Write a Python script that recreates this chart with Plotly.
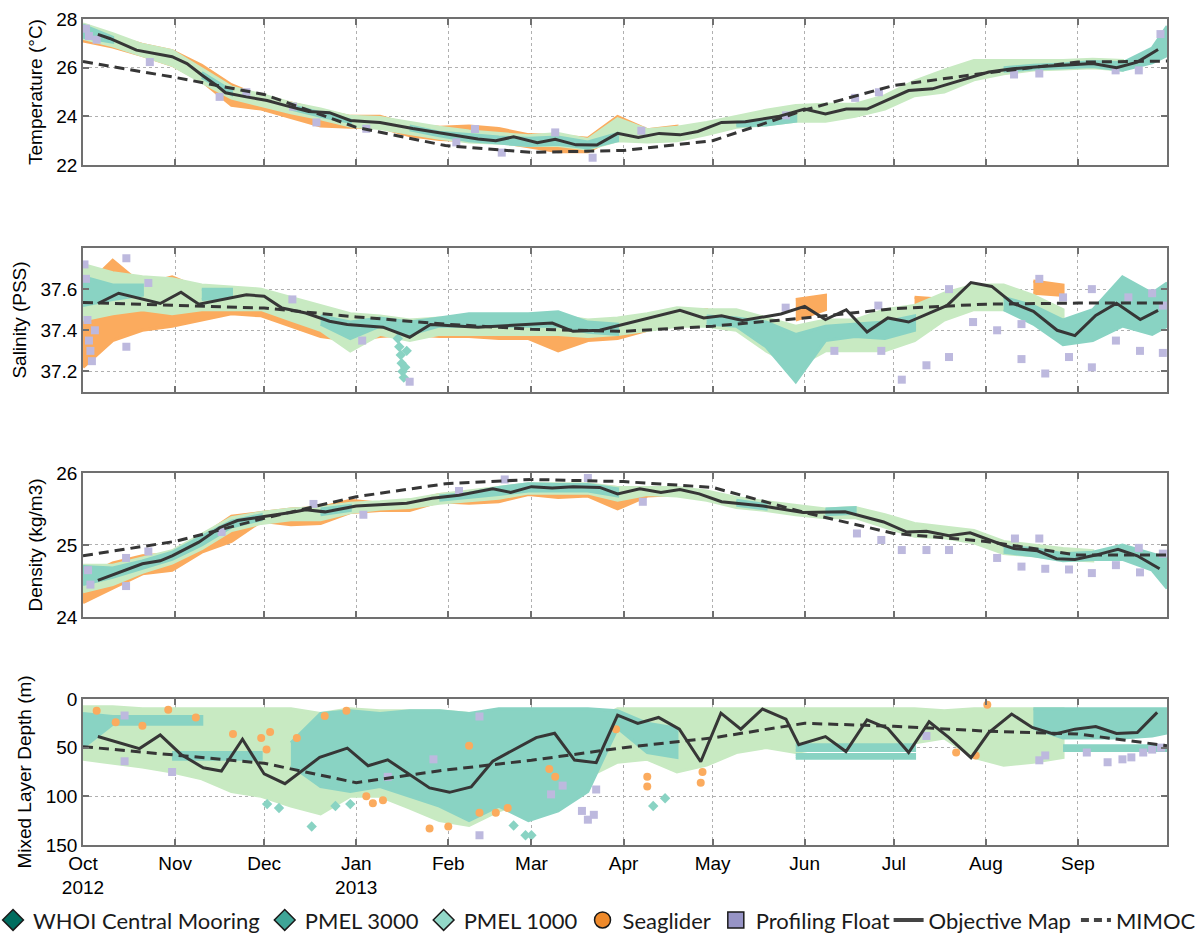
import pandas as pd
import plotly.graph_objects as go

# ---------------------------------------------------------------- time base
START = pd.Timestamp("2012-10-01")
END = pd.Timestamp("2013-10-01")

MONTH_TICKS = ["2012-10-01", "2012-11-01", "2012-12-01", "2013-01-01", "2013-02-01",
               "2013-03-01", "2013-04-01", "2013-05-01", "2013-06-01", "2013-07-01",
               "2013-08-01", "2013-09-01"]
MONTH_LABELS = ["Oct<br>2012", "Nov", "Dec", "Jan<br>2013", "Feb", "Mar", "Apr",
                "May", "Jun", "Jul", "Aug", "Sep"]

# day-of-record nodes used for the instrument envelopes
NODE_DAYS = [0, 10, 20, 30, 40, 50, 60, 70, 80, 90, 100, 110, 120, 130, 140, 150,
             160, 170, 180, 190, 200, 210, 220, 230, 240, 250, 260, 270, 280, 290,
             300, 310, 320, 330, 340, 350, 360, 365]

# ---------------------------------------------------------------- temperature (°C)
TEMP_P1000 = [(27.2, 27.8), (26.9, 27.4), (26.5, 26.95), (26.1, 26.7), (25.4, 25.95),
              (24.75, 25.2), (24.45, 24.9), (24.15, 24.55), (23.9, 24.3), (23.6, 24.0),
              (23.5, 23.95), (23.3, 23.75), (23.1, 23.55), (22.95, 23.4), (22.9, 23.3),
              (22.8, 23.2), (22.8, 23.3), (22.65, 23.05), (23.0, 23.9), (22.95, 23.45),
              (23.0, 23.55), (23.25, 23.75), (23.55, 24.0), (23.65, 24.25), (23.8, 24.45),
              (23.8, 24.5), (24.0, 24.5), (24.3, 24.85), (24.85, 25.45), (25.0, 25.9),
              (25.5, 26.3), (25.75, 26.3), (25.9, 26.3), (25.95, 26.3), (26.0, 26.35),
              (25.9, 26.3), None, None]
TEMP_P3000 = [(27.25, 27.75), (27.05, 27.25), None, None, (25.6, 25.8),
              (24.9, 25.05), None, (24.3, 24.45), (24.0, 24.15), (23.75, 23.85),
              None, (23.45, 23.6), (23.2, 23.35), (23.0, 23.25), (22.9, 23.15),
              (22.8, 23.1), (22.85, 23.15), (22.7, 22.95), (23.0, 23.3), None,
              None, None, (23.6, 23.75), (23.65, 23.85), (23.8, 24.0),
              None, None, None, None, None,
              None, (25.85, 26.0), (25.95, 26.1), (26.0, 26.15), (26.05, 26.25),
              (25.9, 26.2), (26.2, 26.8), (26.5, 27.7)]
TEMP_GLIDER = [(27.1, 27.5), (26.85, 27.3), (26.5, 26.95), (26.1, 26.7), (25.45, 26.1),
               (24.45, 25.3), (24.3, 24.8), (23.95, 24.55), (23.6, 24.25), (23.55, 24.0),
               (23.55, 24.0), (23.2, 23.65), (23.05, 23.55), (23.0, 23.6), (22.95, 23.5),
               (22.75, 23.25), (22.55, 23.2), (22.55, 23.1), (23.2, 24.0), (23.0, 23.45),
               (23.2, 23.6), None, None, (23.95, 24.2), (24.0, 24.35),
               None, None, None, None, None, None, None, None, None, None, None, None, None]
TEMP_FLOAT_DAYS = [1, 2, 4.6, 22.5, 46, 55, 70.7, 78.6, 95.4, 125.7, 132, 141, 159,
                   171.6, 188, 236.7, 260, 268, 313.5, 322, 347.7, 355.5, 362.8]
TEMP_FLOAT = [27.6, 27.3, 27.15, 26.23, 24.8, 24.99, 24.4, 23.75, 23.49, 22.93, 23.48,
              22.51, 23.34, 22.3, 23.41, 24.04, 24.76, 24.99, 25.72, 25.76, 25.89,
              25.89, 27.38]
TEMP_OM_DAYS = [5, 9, 18, 26, 30, 35, 40, 45, 48, 55, 62, 68, 76, 83, 90, 96, 100, 111,
                122, 133, 139, 145, 153, 159, 166, 173, 180, 187, 194, 201, 207, 215,
                223, 234, 243, 250, 257, 264, 278, 286, 305, 313, 324, 340, 348, 355, 362]
TEMP_OM = [27.37, 27.2, 26.72, 26.55, 26.45, 26.17, 25.7, 25.27, 24.97, 24.8, 24.65,
           24.45, 24.2, 24.15, 23.83, 23.78, 23.75, 23.5, 23.28, 23.07, 23.0, 23.16,
           22.92, 23.06, 22.83, 22.82, 23.3, 23.13, 23.3, 23.24, 23.38, 23.75, 23.78,
           23.99, 24.3, 24.1, 24.3, 24.3, 25.06, 25.13, 25.82, 25.96, 26.06, 26.17,
           26.0, 26.23, 26.75]

# ---------------------------------------------------------------- salinity (PSS)
SAL_P1000 = [(37.45, 37.72), (37.48, 37.68), (37.5, 37.66), (37.48, 37.65), (37.5, 37.62),
             (37.5, 37.61), (37.5, 37.6), (37.45, 37.56), (37.4, 37.52), (37.3, 37.48),
             (37.38, 37.47), (37.35, 37.45), (37.38, 37.46), (37.38, 37.45), (37.38, 37.46),
             (37.38, 37.46), (37.38, 37.47), (37.37, 37.45), (37.38, 37.46), (37.4, 37.48),
             (37.42, 37.51), (37.42, 37.5), (37.4, 37.5), (37.3, 37.46), (37.22, 37.42),
             (37.3, 37.45), (37.3, 37.45), (37.3, 37.5), (37.35, 37.52), (37.45, 37.58),
             (37.5, 37.62), (37.5, 37.62), (37.45, 37.57), (37.4, 37.5), None,
             None, None, None]
SAL_P3000 = [(37.52, 37.66), (37.55, 37.62), (37.57, 37.62), None, (37.55, 37.6),
             (37.56, 37.6), None, None, (37.43, 37.47), (37.36, 37.44),
             (37.42, 37.46), (37.38, 37.44), (37.42, 37.46), (37.42, 37.48), (37.42, 37.48),
             (37.42, 37.48), (37.42, 37.49), (37.39, 37.44), (37.38, 37.43), None,
             None, (37.43, 37.47), (37.42, 37.46), (37.32, 37.44), (37.15, 37.38),
             (37.35, 37.42), (37.37, 37.43), (37.36, 37.44), (37.4, 37.47), None,
             None, (37.5, 37.56), (37.43, 37.52), (37.33, 37.45), (37.35, 37.5),
             (37.42, 37.66), (37.38, 37.58), (37.42, 37.63)]
SAL_P3000_EXTRA_DAYS = [106, 106.5, 107, 107.3, 107.6, 108, 108.5, 109]
SAL_P3000_EXTRA = [37.36, 37.32, 37.28, 37.24, 37.2, 37.17, 37.22, 37.3]
SAL_GLIDER = [(37.22, 37.6), (37.35, 37.74), (37.4, 37.62), (37.42, 37.66), (37.45, 37.6),
              (37.48, 37.57), (37.47, 37.55), (37.42, 37.5), (37.37, 37.47), (37.35, 37.45),
              (37.37, 37.43), (37.38, 37.44), (37.37, 37.43), (37.37, 37.42), (37.36, 37.42),
              (37.36, 37.42), (37.3, 37.41), (37.35, 37.42), (37.36, 37.44), (37.4, 37.47),
              (37.45, 37.5), (37.46, 37.5), None, None, (37.45, 37.55),
              (37.5, 37.57), None, None, (37.48, 37.56), (37.5, 37.55),
              None, None, (37.58, 37.64), (37.57, 37.62), None, None, None, None]
SAL_FLOAT_DAYS = [0.5, 1, 1.5, 2, 2.5, 3, 4, 14.6, 14.6, 22, 70.5, 94, 110, 236.6, 253,
                  267.8, 268.8, 275.7, 284, 291.6, 291.6, 299.7, 307.8, 316, 316, 322,
                  324, 330, 332, 339.7, 339.7, 347.8, 352, 355.9, 360, 363.6, 363.6]
SAL_FLOAT = [37.72, 37.65, 37.45, 37.35, 37.3, 37.25, 37.4, 37.32, 37.75, 37.63, 37.55,
             37.35, 37.15, 37.51, 37.3, 37.52, 37.3, 37.16, 37.23, 37.27, 37.6, 37.44,
             37.4, 37.26, 37.43, 37.65, 37.19, 37.56, 37.27, 37.22, 37.6, 37.35, 37.56,
             37.3, 37.58, 37.29, 37.52]
SAL_OM_DAYS = [5, 12, 26, 33, 39, 55, 61, 67, 75, 83, 89, 101, 110, 117, 133, 143, 158,
               165, 174, 201, 209, 215, 222, 235, 243, 250, 257, 264, 271, 278, 291, 299,
               306, 313, 320, 328, 334, 341, 348, 356, 362]
SAL_OM = [37.53, 37.58, 37.53, 37.585, 37.527, 37.573, 37.565, 37.508, 37.484, 37.444,
          37.428, 37.415, 37.366, 37.428, 37.415, 37.424, 37.435, 37.395, 37.4, 37.497,
          37.46, 37.47, 37.448, 37.479, 37.516, 37.452, 37.5, 37.392, 37.46, 37.44,
          37.521, 37.632, 37.613, 37.532, 37.492, 37.40, 37.374, 37.472, 37.531,
          37.452, 37.497]

# ---------------------------------------------------------------- density (kg/m3)
DEN_P1000 = [(24.35, 24.72), (24.45, 24.72), (24.62, 24.82), (24.75, 24.92), (24.95, 25.15),
             (25.2, 25.38), (25.3, 25.45), (25.35, 25.5), (25.35, 25.52), (25.45, 25.58),
             (25.5, 25.6), (25.52, 25.63), (25.58, 25.7), (25.62, 25.75), (25.65, 25.8),
             (25.72, 25.85), (25.72, 25.85), (25.72, 25.85), (25.62, 25.8), (25.7, 25.8),
             (25.68, 25.8), (25.62, 25.75), (25.52, 25.66), (25.48, 25.6), (25.42, 25.55),
             (25.38, 25.5), (25.38, 25.52), (25.25, 25.42), (25.12, 25.3), (25.1, 25.25),
             (25.03, 25.2), (24.88, 25.05), (24.85, 25.0), (24.8, 24.95), (24.78, 24.92),
             None, None, None]
DEN_P3000 = [(24.45, 24.7), (24.55, 24.68), (24.68, 24.78), (24.8, 24.9), (25.0, 25.12),
             (25.25, 25.33), (25.35, 25.42), None, (25.42, 25.5), (25.48, 25.55),
             None, None, (25.62, 25.68), (25.66, 25.72), (25.7, 25.8),
             (25.75, 25.85), (25.75, 25.84), (25.75, 25.84), (25.68, 25.78), None,
             None, None, (25.55, 25.62), (25.5, 25.56), None,
             (25.42, 25.5), (25.44, 25.52), None, None, None,
             None, (24.9, 24.98), (24.85, 24.95), (24.78, 24.88), (24.8, 24.9),
             (24.8, 25.0), (24.65, 24.88), (24.4, 24.82)]
DEN_GLIDER = [(24.2, 24.55), (24.4, 24.75), (24.6, 24.85), (24.65, 24.88), (24.9, 25.12),
              (25.05, 25.4), (25.33, 25.45), (25.28, 25.5), (25.3, 25.52), (25.45, 25.62),
              (25.48, 25.58), (25.48, 25.6), (25.6, 25.7), (25.58, 25.72), (25.6, 25.72),
              (25.7, 25.82), (25.66, 25.8), (25.68, 25.82), (25.5, 25.8), (25.68, 25.78),
              (25.7, 25.78), None, None, None, None, None, None, None, None, None,
              None, None, None, None, None, None, None, None]
DEN_FLOAT_DAYS = [1.7, 2.5, 14.5, 14.5, 22, 46.7, 77.6, 94.4, 126.6, 142, 170, 188.5,
                  260.6, 268.8, 275.7, 284, 291.6, 307.8, 313.8, 316, 322, 324, 332,
                  339.7, 347.8, 355.5, 355.9, 363.6]
DEN_FLOAT = [24.65, 24.45, 24.82, 24.43, 24.91, 25.18, 25.57, 25.42, 25.75, 25.91,
             25.93, 25.6, 25.16, 25.07, 24.93, 24.93, 24.93, 24.82, 25.09, 24.70, 25.09,
             24.67, 24.66, 24.61, 24.72, 24.96, 24.62, 24.88]
DEN_OM_DAYS = [5, 12, 20, 26, 30, 39, 46, 52, 62, 70, 75, 81.5, 92, 101, 109, 117.5,
               126.6, 138, 144, 151, 158, 165, 174, 180, 187.5, 194.6, 201, 207.5, 215,
               229, 242.5, 256.6, 269.6, 277.4, 284, 291.6, 298.7, 309.8, 313.5, 321.4,
               327.8, 334, 341, 348.5, 355, 362.5]
DEN_OM = [24.51, 24.62, 24.74, 24.78, 24.85, 25.04, 25.24, 25.34, 25.40, 25.45, 25.49,
          25.46, 25.54, 25.56, 25.58, 25.65, 25.69, 25.78, 25.73, 25.81, 25.79, 25.81,
          25.80, 25.71, 25.78, 25.73, 25.77, 25.71, 25.60, 25.54, 25.45, 25.46, 25.32,
          25.18, 25.19, 25.13, 25.17, 25.0, 24.95, 24.92, 24.81, 24.80, 24.86, 24.94,
          24.85, 24.67]

# ---------------------------------------------------------------- mixed layer depth (m)
MLD_P1000 = [(8, 62), (8, 66), (10, 70), (10, 75), (10, 82), (10, 95), (10, 100),
             (10, 110), (15, 118), (10, 100), (12, 100), (12, 112), (12, 125), (15, 130),
             (15, 115), (30, 105), (30, 90), (25, 80), (10, 65), (10, 62), (10, 75),
             (10, 68), (10, 55), (10, 50), (10, 55), (10, 50), (10, 45), (10, 50),
             (10, 45), (12, 40), (10, 60), (10, 68), (10, 65), (10, 60), None, None,
             None, None]
MLD_P3000 = [(15, 50), (18, 26), (18, 26), (18, 26), (18, 26), None, None,
             (45, 68), (15, 90), (12, 95), (15, 90), (12, 100), (12, 110), (15, 125),
             (10, 110), (10, 125), (10, 115), (10, 95), (12, 30), (25, 55), (30, 60),
             None, None, None, (47, 53), (47, 53), (47, 53), (47, 53), (47, 53), None,
             None, None, (10, 30), (10, 40), (10, 40), (10, 40), (10, 38), (10, 35)]
MLD_P3000_DEEP = [None, None, None, (55, 62), (55, 62), (55, 62), (55, 62), None, None,
                  None, None, None, None, None, None, None, None, None, None, None, None,
                  None, None, None, (57, 61), (57, 61), (57, 61), (57, 61), (57, 61), None,
                  None, None, None, (48, 53), (48, 53), (48, 53), (48, 53), (48, 53)]
MLD_P3000_EXTRA_DAYS = [62, 66, 77, 85, 90, 145, 149, 151, 192, 196]
MLD_P3000_EXTRA = [108, 112, 131, 110, 108, 130, 140, 140, 110, 102]
MLD_GLIDER_DAYS = [4.6, 11, 20, 28.7, 38, 50.5, 60, 61.8, 63, 72, 81.4, 88.7, 95.4,
                   97.6, 101, 116.7, 123, 130, 133.5, 139, 143, 157, 159, 179.5, 190,
                   190, 208, 208.6, 294, 300.6, 304.5]
MLD_GLIDER = [12, 24, 27.6, 11, 19, 36, 40, 52, 34, 40, 17.6, 12, 100, 107, 104, 133,
              131, 48, 117, 117, 112, 72, 80, 31, 80, 90, 86, 75, 55, 58, 6]
MLD_FLOAT_DAYS = [14, 14, 30, 102.6, 118, 133.5, 133.5, 157.6, 161.5, 168, 170, 172,
                  172.8, 284, 322, 324, 338, 345, 350, 353, 357, 360, 363]
MLD_FLOAT = [17, 64, 75, 80, 62, 18, 140, 98, 89, 115, 124, 119, 93, 38, 63, 58, 55,
             65, 62, 60, 55, 52, 50]
MLD_OM_DAYS = [5, 19, 26, 33, 40.5, 46.6, 53.7, 61, 68, 79.7, 89, 96, 102.6, 106.6,
               116.7, 123.4, 130.7, 138, 152.6, 158.8, 165.5, 172.8, 180, 186.8, 193.8,
               200.8, 208, 214.8, 221.5, 228.8, 236.7, 241, 250, 256.9, 264, 271, 278,
               284.9, 291.6, 299, 305, 312.7, 319.6, 327, 334, 341, 348, 355, 361.7]
MLD_OM = [38.6, 51, 37, 57, 70.7, 74, 41.4, 77, 87, 60, 50.5, 68.6, 62.5, 70.7, 91.4,
          95.9, 90.3, 63.8, 39.7, 35.2, 62.8, 65.5, 16.6, 25.2, 19, 31, 64.5, 14.5, 31,
          10.3, 20.7, 47, 38.6, 54, 21.4, 30.3, 55, 23.4, 39.7, 60.3, 34.5, 15.5, 29.3,
          36.2, 31, 28.3, 35.5, 34.5, 13.8]

# ---------------------------------------------------------------- MIMOC climatology
MIMOC_DAYS = [0, 31, 61, 92, 122, 151, 182, 212, 243, 273, 304, 335, 365]
MIMOC_TEMP = [26.25, 25.6, 24.9, 23.55, 22.8, 22.52, 22.6, 23.0, 24.26, 25.27, 25.78,
              26.23, 26.27]
MIMOC_SAL = [37.535, 37.52, 37.508, 37.465, 37.43, 37.405, 37.395, 37.42, 37.46,
             37.505, 37.527, 37.532, 37.533]
MIMOC_DEN = [24.85, 25.05, 25.37, 25.67, 25.85, 25.91, 25.88, 25.8, 25.45, 25.16,
             25.05, 24.86, 24.86]
MIMOC_MLD = [49, 58, 66, 86, 73, 63, 50, 40, 25, 28, 33, 36, 48]

# ---------------------------------------------------------------- styling
CLOUD_GREEN = "#c8eac2"
CLOUD_TEAL = "#89d3c3"
CLOUD_ORANGE = "#fbab5e"
CLOUD_LAVENDER = "#bdb9de"
LINE_DARK = "#363636"

LEGEND_COLORS = {"WHOI Central Mooring": "#006d5f", "PMEL 3000": "#3fa597",
                 "PMEL 1000": "#92d8c8", "Seaglider": "#ef8a2b",
                 "Profiling Float": "#9794c6"}


def day_to_date(d):
    return (START + pd.Timedelta(days=float(d))).strftime("%Y-%m-%d %H:%M")


def envelope(pairs):
    """Closed polygons (separated by None) around each run of valid lo/hi pairs."""
    xs, ys = [], []
    runs, run = [], []
    for d, p in zip(NODE_DAYS, pairs):
        if p is None:
            if run:
                runs.append(run)
            run = []
        else:
            run.append((d, p[0], p[1]))
    if run:
        runs.append(run)
    for r in runs:
        if len(r) < 2:
            continue
        dates = [day_to_date(d) for d, _, _ in r]
        xs += dates + dates[::-1] + [None]
        ys += [h for _, _, h in r] + [lo for _, lo, _ in r][::-1] + [None]
    return xs, ys


fig = go.Figure()

PANELS = [
    dict(ax=("x", "y"), green=TEMP_P1000, teal=[TEMP_P3000], orange=TEMP_GLIDER,
         fl=(TEMP_FLOAT_DAYS, TEMP_FLOAT), om=(TEMP_OM_DAYS, TEMP_OM), mimoc=MIMOC_TEMP,
         dots=None, teal_pts=None),
    dict(ax=("x2", "y2"), green=SAL_P1000, teal=[SAL_P3000], orange=SAL_GLIDER,
         fl=(SAL_FLOAT_DAYS, SAL_FLOAT), om=(SAL_OM_DAYS, SAL_OM), mimoc=MIMOC_SAL,
         dots=None, teal_pts=(SAL_P3000_EXTRA_DAYS, SAL_P3000_EXTRA)),
    dict(ax=("x3", "y3"), green=DEN_P1000, teal=[DEN_P3000], orange=DEN_GLIDER,
         fl=(DEN_FLOAT_DAYS, DEN_FLOAT), om=(DEN_OM_DAYS, DEN_OM), mimoc=MIMOC_DEN,
         dots=None, teal_pts=None),
    dict(ax=("x4", "y4"), green=MLD_P1000, teal=[MLD_P3000, MLD_P3000_DEEP], orange=None,
         fl=(MLD_FLOAT_DAYS, MLD_FLOAT), om=(MLD_OM_DAYS, MLD_OM), mimoc=MIMOC_MLD,
         dots=(MLD_GLIDER_DAYS, MLD_GLIDER),
         teal_pts=(MLD_P3000_EXTRA_DAYS, MLD_P3000_EXTRA)),
]


def add_env(pairs, color, xa, ya):
    xs, ys = envelope(pairs)
    fig.add_trace(go.Scatter(x=xs, y=ys, mode="lines", fill="toself", fillcolor=color,
                             line=dict(color=color, width=3), hoverinfo="skip",
                             showlegend=False, xaxis=xa, yaxis=ya))


def add_points(days, vals, color, symbol, size, xa, ya):
    fig.add_trace(go.Scatter(x=[day_to_date(d) for d in days], y=vals, mode="markers",
                             marker=dict(color=color, symbol=symbol, size=size,
                                         line=dict(width=0)),
                             hoverinfo="skip", showlegend=False, xaxis=xa, yaxis=ya))


for p in PANELS:
    xa, ya = p["ax"]
    if p["orange"] is not None:
        add_env(p["orange"], CLOUD_ORANGE, xa, ya)
    add_env(p["green"], CLOUD_GREEN, xa, ya)
    for t in p["teal"]:
        add_env(t, CLOUD_TEAL, xa, ya)
    if p["teal_pts"] is not None:
        add_points(*p["teal_pts"], CLOUD_TEAL, "diamond", 8, xa, ya)
    add_points(*p["fl"], CLOUD_LAVENDER, "square", 8, xa, ya)
    if p["dots"] is not None:
        add_points(*p["dots"], CLOUD_ORANGE, "circle", 8, xa, ya)
    fig.add_trace(go.Scatter(x=[day_to_date(d) for d in MIMOC_DAYS], y=p["mimoc"],
                             mode="lines", line=dict(color=LINE_DARK, width=3,
                                                     dash="10px,6px"),
                             hoverinfo="skip", showlegend=False, xaxis=xa, yaxis=ya))
    fig.add_trace(go.Scatter(x=[day_to_date(d) for d in p["om"][0]], y=p["om"][1],
                             mode="lines", line=dict(color=LINE_DARK, width=3),
                             hoverinfo="skip", showlegend=False, xaxis=xa, yaxis=ya))

# legend entries: instruments in the first legend, reference curves in the second
for name, sym in [("WHOI Central Mooring", "diamond"), ("PMEL 3000", "diamond"),
                  ("PMEL 1000", "diamond"), ("Seaglider", "circle"),
                  ("Profiling Float", "square")]:
    fig.add_trace(go.Scatter(x=[None], y=[None], mode="markers", name=name,
                             marker=dict(symbol=sym, size=16, color=LEGEND_COLORS[name],
                                         line=dict(color="#1a1a1a", width=1.5)),
                             xaxis="x4", yaxis="y4", legend="legend"))
fig.add_trace(go.Scatter(x=[None], y=[None], mode="lines", name="Objective Map",
                         line=dict(color="#444444", width=4), xaxis="x4", yaxis="y4",
                         legend="legend2"))
fig.add_trace(go.Scatter(x=[None], y=[None], mode="lines", name="MIMOC",
                         line=dict(color="#444444", width=4, dash="8px,5px"),
                         xaxis="x4", yaxis="y4", legend="legend2"))

TICK_FONT = dict(family="Liberation Sans, Arial, sans-serif", size=19, color="black")
AXIS_COMMON = dict(showline=True, mirror="ticks", linecolor="#707070", linewidth=1.5,
                   ticks="inside", ticklen=6, tickcolor="#707070", tickwidth=1.5,
                   showgrid=True, gridcolor="#b0b0b0", griddash="dot", gridwidth=1,
                   zeroline=False, tickfont=TICK_FONT)

DOMAINS = [[0.8232, 1.0], [0.5484, 0.7228], [0.2760, 0.4504], [0.0, 0.1768]]
Y_TITLES = ["Temperature (°C)", "Salinity (PSS)", "Density (kg/m3)",
            "Mixed Layer Depth (m)"]
Y_RANGES = [[22, 28], [37.1, 37.8], [24, 26], [150, 0]]
Y_TICKS = [[22, 24, 26, 28], [37.2, 37.4, 37.6], [24, 25, 26], [0, 50, 100, 150]]

LEGEND_FONT = dict(family="Lato, Open Sans, sans-serif", size=22, color="#1a1a1a")
layout = dict(
    width=1202, height=939,
    margin=dict(l=83, r=35, t=19, b=94, autoexpand=False),
    paper_bgcolor="white", plot_bgcolor="white",
    showlegend=True,
    legend=dict(orientation="h", x=-0.083, y=-0.091, xanchor="left", yanchor="middle",
                font=LEGEND_FONT, itemsizing="trace", itemwidth=30,
                traceorder="normal", bgcolor="rgba(0,0,0,0)"),
    legend2=dict(orientation="h", x=1.031, y=-0.091, xanchor="right", yanchor="middle",
                 font=LEGEND_FONT, itemsizing="trace", itemwidth=30,
                 traceorder="normal", bgcolor="rgba(0,0,0,0)"),
)

for i in range(4):
    sfx = "" if i == 0 else str(i + 1)
    layout["xaxis" + sfx] = dict(
        AXIS_COMMON, type="date", domain=[0, 1], anchor="y" + sfx,
        range=[START.strftime("%Y-%m-%d"), END.strftime("%Y-%m-%d")],
        tickmode="array", tickvals=MONTH_TICKS, ticktext=MONTH_LABELS,
        showticklabels=(i == 3), **({} if i == 0 else {"matches": "x"}))
    layout["yaxis" + sfx] = dict(
        AXIS_COMMON, domain=DOMAINS[i], anchor="x" + sfx, range=Y_RANGES[i],
        tickmode="array", tickvals=Y_TICKS[i],
        ticktext=[f"{v:g}" for v in Y_TICKS[i]],
        title=dict(text=Y_TITLES[i], standoff=9,
                   font=dict(family="Liberation Sans, Arial, sans-serif", size=19,
                             color="black")))

fig.update_layout(**layout)
fig.write_html("out.html")
